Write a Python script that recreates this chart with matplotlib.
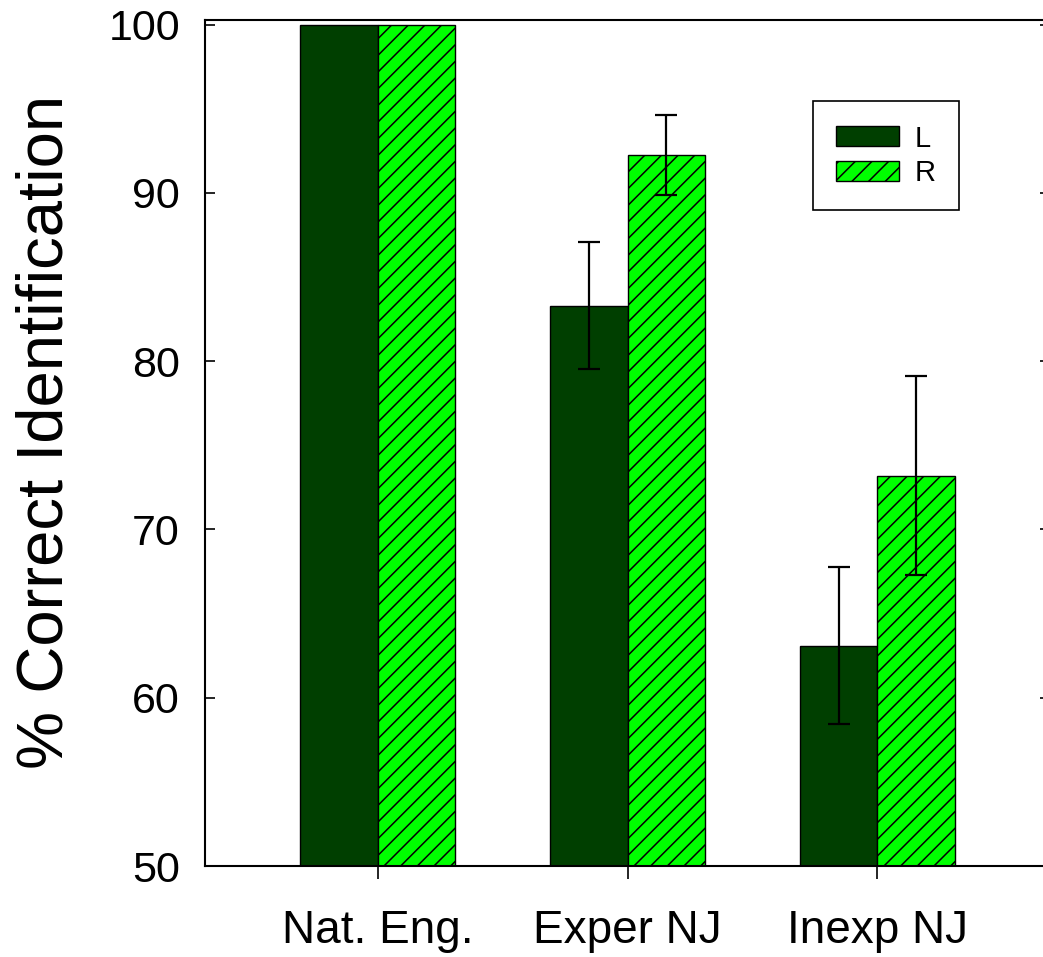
import matplotlib
matplotlib.use("Agg")
import numpy as np
import matplotlib.pyplot as plt

plt.rcParams["font.family"] = ["Liberation Sans", "DejaVu Sans"]
plt.rcParams["hatch.linewidth"] = 1.1

# Данные
groups = ["Nat. Eng.", "Exper NJ", "Inexp NJ"]
left_vals = [100.0, 83.3, 63.1]
right_vals = [100.0, 92.25, 73.2]
left_err = [0.0, 3.75, 4.65]
right_err = [0.0, 2.38, 5.9]

width = 0.31
x = np.arange(len(groups))

fig = plt.figure(figsize=(10.43, 9.57), dpi=100)
ax = fig.add_axes([205 / 1043, 91 / 957, 845 / 1043, 846 / 957])

ax.bar(x - width / 2, left_vals, width, color="#003f00", edgecolor="black",
       linewidth=1.0, label="L")
ax.bar(x + width / 2, right_vals, width, color="#00ff00", edgecolor="black",
       linewidth=1.0, hatch="//", label="R")

# Планки погрешностей только там, где они есть
for i in range(len(groups)):
    if left_err[i] > 0:
        ax.errorbar(x[i] - width / 2, left_vals[i], yerr=left_err[i], fmt="none",
                    ecolor="black", elinewidth=1.6, capsize=8, capthick=1.6)
    if right_err[i] > 0:
        ax.errorbar(x[i] + width / 2, right_vals[i], yerr=right_err[i], fmt="none",
                    ecolor="black", elinewidth=1.6, capsize=8, capthick=1.6)

ax.set_xlim(-0.692, 2.692)
ax.set_ylim(50, 100.27)
ax.set_yticks([50, 60, 70, 80, 90, 100])
ax.set_xticks(x)
ax.set_xticklabels(groups)

for s in ax.spines.values():
    s.set_linewidth(1.5)

ax.tick_params(axis="y", direction="in", left=True, right=True, length=7,
               width=1.2, labelsize=31, pad=18)
ax.tick_params(axis="x", direction="out", length=9, width=1.2, labelsize=33,
               pad=22)

ax.set_ylabel("% Correct Identification", fontsize=47)
ax.yaxis.set_label_coords(-0.153, 0.513)

leg = ax.legend(loc="upper left", bbox_to_anchor=(0.7195, 0.904),
                borderaxespad=0, fontsize=21, fancybox=False,
                handlelength=2.15, handleheight=0.68, handletextpad=0.55,
                borderpad=0.8, labelspacing=0.22, framealpha=1)
leg.get_frame().set_edgecolor("black")
leg.get_frame().set_linewidth(1.2)

fig.savefig("out.png", dpi=100)
